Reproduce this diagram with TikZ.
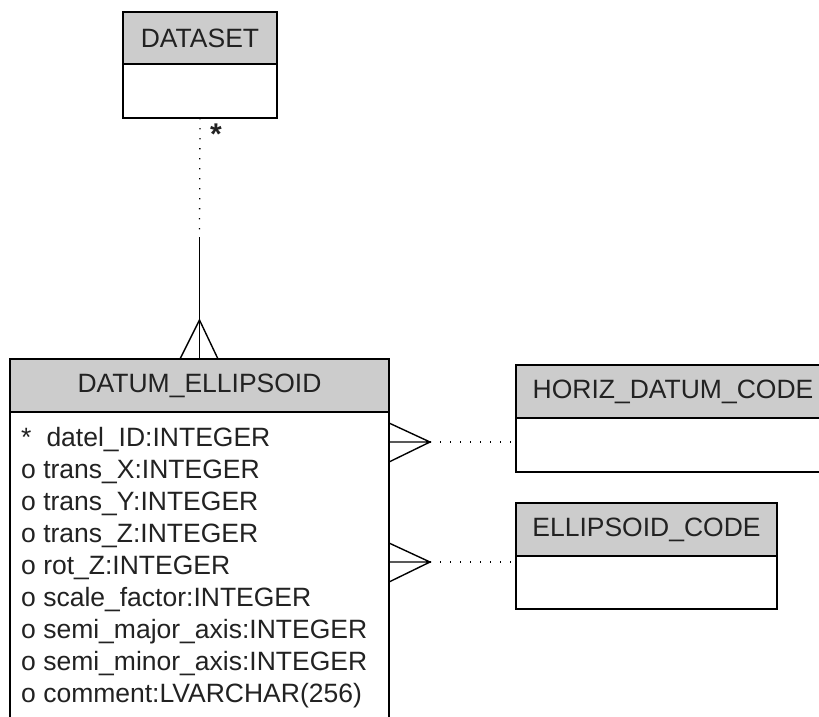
\documentclass[tikz,border=0pt]{standalone}
\usepackage{fontspec}
\setmainfont{Liberation Sans}
\usetikzlibrary{calc,positioning}
\definecolor{hdrgray}{RGB}{204,204,204}
\definecolor{ink}{RGB}{34,34,34}
\tikzset{
  wire/.style={line width=1.4pt},
  rel/.style={line width=1.3pt, dash pattern=on 1.3pt off 8.7pt},
  head/.style={draw, line width=1.6pt, fill=hdrgray, inner sep=0pt, outer sep=0pt, text=ink, font=\fontsize{26.5}{32}\selectfont},
  body/.style={draw, line width=1.6pt, fill=white, inner sep=0pt, outer sep=0pt},
  attr/.style={anchor=north west, align=left, inner sep=0pt, text=ink, font=\fontsize{26.5}{32}\selectfont}
}

\begin{document}
\begin{tikzpicture}[x=1pt,y=-1pt]
  \clip (0,0) rectangle (819,716);
  % entities
  \node[head, minimum width=154pt, minimum height=52pt] (dataset) at (200,38) {DATASET};
  \node[body, minimum width=154pt, minimum height=54pt, below=0pt of dataset] (dataset-body) {};
  \node[head, minimum width=379pt, minimum height=53pt] (datum) at (199.5,385.5) {DATUM\_ELLIPSOID};
  \node[body, minimum width=379pt, minimum height=360pt, below=0pt of datum] (datum-body) {};
  \node[attr] (datum-attr) at (21,427) {*\hspace{15pt}datel\_ID:INTEGER\\
    o trans\_X:INTEGER\\ o trans\_Y:INTEGER\\ o trans\_Z:INTEGER\\ o rot\_Z:INTEGER\\
    o scale\_factor:INTEGER\\ o semi\_major\_axis:INTEGER\\ o semi\_minor\_axis:INTEGER\\
    o comment:LVARCHAR(256)};
  \node[head, minimum width=314pt, minimum height=53pt] (horiz) at (673,391.5) {HORIZ\_DATUM\_CODE};
  \node[body, minimum width=314pt, minimum height=54pt, below=0pt of horiz] (horiz-body) {};
  \node[head, minimum width=261pt, minimum height=53pt] (ellcode) at (646.5,529.5) {ELLIPSOID\_CODE};
  \node[body, minimum width=261pt, minimum height=53pt, below=0pt of ellcode] (ellcode-body) {};

  % DATASET -- DATUM_ELLIPSOID
  \coordinate (ds-end) at (199.5,237);
  \coordinate (cf-top) at (199.5,320);
  \draw[rel] (dataset-body.south) -- (ds-end);
  \draw[wire] (ds-end) -- (datum.north);
  \draw[wire] ($(cf-top)+(-19.5,39)$) -- (cf-top) -- ($(cf-top)+(18.5,39)$);
  \node[text=ink, inner sep=0pt, font=\fontsize{30}{32}\bfseries] (ds-mult) at (216,134) {*};

  % DATUM_ELLIPSOID -- HORIZ_DATUM_CODE
  \coordinate (cf1) at (430,442);
  \draw[wire] ($(cf1)+(-41,-19)$) -- (cf1) -- ($(cf1)+(-41,20)$) ($(cf1)+(-41,0)$) -- (cf1);
  \draw[rel] (cf1) -- (cf1 -| horiz-body.west);

  % DATUM_ELLIPSOID -- ELLIPSOID_CODE
  \coordinate (cf2) at (430,562);
  \draw[wire] ($(cf2)+(-41,-19)$) -- (cf2) -- ($(cf2)+(-41,20)$) ($(cf2)+(-41,0)$) -- (cf2);
  \draw[rel] (cf2) -- (cf2 -| ellcode-body.west);
\end{tikzpicture}
\end{document}
